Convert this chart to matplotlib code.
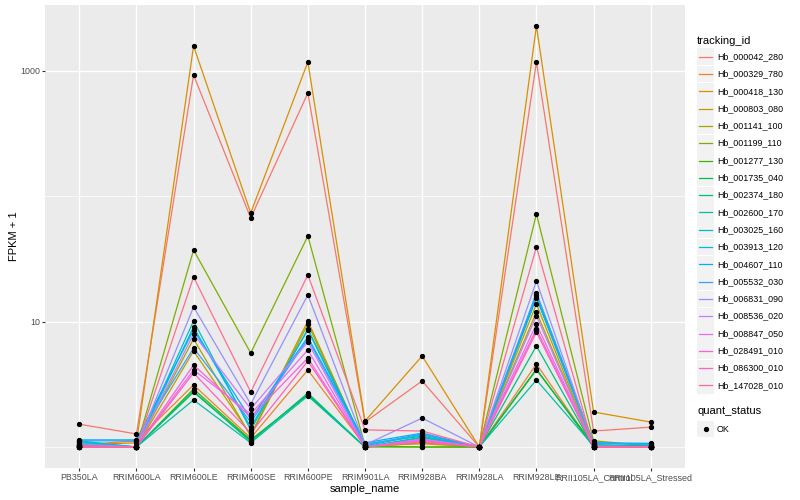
import matplotlib
matplotlib.use("Agg")
import matplotlib.pyplot as plt
from matplotlib.patches import Rectangle
from matplotlib.lines import Line2D
from matplotlib.ticker import FixedLocator, NullFormatter

plt.rcParams['font.family'] = ['Liberation Sans', 'DejaVu Sans']

# eixos / categorias
samples = ['PB350LA', 'RRIM600LA', 'RRIM600LE', 'RRIM600SE', 'RRIM600PE', 'RRIM901LA',
           'RRIM928BA', 'RRIM928LA', 'RRIM928LE', 'RRII105LA_Control', 'RRII105LA_Stressed']

tracking_ids = ['Hb_000042_280', 'Hb_000329_780', 'Hb_000418_130', 'Hb_000803_080',
                'Hb_001141_100', 'Hb_001199_110', 'Hb_001277_130', 'Hb_001735_040',
                'Hb_002374_180', 'Hb_002600_170', 'Hb_003025_160', 'Hb_003913_120',
                'Hb_004607_110', 'Hb_005532_030', 'Hb_006831_090', 'Hb_008536_020',
                'Hb_008847_050', 'Hb_028491_010', 'Hb_086300_010', 'Hb_147028_010']

# FPKM + 1 por amostra (mesma ordem de samples)
hb_000042_280 = [1.52, 1.27, 921, 66.8, 662, 1.58, 3.36, 1.0, 1169, 1.34, 1.44]
hb_000329_780 = [1.04, 1.12, 3.12, 1.18, 4.11, 1.02, 1.06, 1.0, 4.59, 1.0, 1.0]
hb_000418_130 = [1.04, 1.08, 1567, 73.2, 1169, 1.61, 5.31, 1.0, 2263, 1.90, 1.58]
hb_000803_080 = [1.0, 1.0, 5.82, 1.25, 10.1, 1.0, 1.08, 1.0, 13.8, 1.0, 1.0]
hb_001141_100 = [1.0, 1.0, 7.26, 1.22, 9.55, 1.0, 1.10, 1.0, 11.9, 1.0, 1.0]
hb_001199_110 = [1.02, 1.0, 37.1, 5.61, 48.0, 1.02, 1.0, 1.0, 71.9, 1.12, 1.02]
hb_001277_130 = [1.0, 1.0, 2.90, 1.14, 2.60, 1.0, 1.0, 1.0, 4.11, 1.04, 1.02]
hb_001735_040 = [1.02, 1.0, 2.74, 1.12, 2.64, 1.0, 1.14, 1.0, 4.18, 1.0, 1.0]
hb_002374_180 = [1.04, 1.0, 2.79, 1.10, 2.69, 1.0, 1.18, 1.0, 6.38, 1.0, 1.0]
hb_002600_170 = [1.08, 1.0, 2.37, 1.08, 2.55, 1.0, 1.20, 1.0, 3.42, 1.02, 1.02]
hb_003025_160 = [1.12, 1.0, 10.1, 1.37, 8.71, 1.06, 1.22, 1.0, 15.4, 1.06, 1.06]
hb_003913_120 = [1.10, 1.0, 9.04, 1.44, 8.56, 1.02, 1.25, 1.0, 15.7, 1.04, 1.0]
hb_004607_110 = [1.14, 1.14, 8.56, 1.67, 7.52, 1.08, 1.29, 1.0, 16.3, 1.08, 1.07]
hb_005532_030 = [1.12, 1.12, 6.15, 1.58, 7.26, 1.04, 1.27, 1.0, 16.9, 1.08, 1.04]
hb_006831_090 = [1.06, 1.0, 13.05, 2.20, 16.3, 1.04, 1.70, 1.0, 21.0, 1.02, 1.0]
hb_008536_020 = [1.0, 1.0, 7.95, 2.01, 6.86, 1.0, 1.16, 1.0, 11.1, 1.0, 1.0]
hb_008847_050 = [1.0, 1.0, 4.11, 1.83, 5.93, 1.0, 1.14, 1.0, 9.55, 1.0, 1.0]
hb_028491_010 = [1.02, 1.0, 4.50, 1.73, 5.12, 1.0, 1.12, 1.0, 8.71, 1.0, 1.0]
hb_086300_010 = [1.0, 1.0, 3.89, 1.29, 4.84, 1.0, 1.10, 1.0, 8.25, 1.0, 1.0]
hb_147028_010 = [1.02, 1.0, 22.6, 2.74, 23.5, 1.37, 1.34, 1.0, 39.2, 1.0, 1.0]

series = [hb_000042_280, hb_000329_780, hb_000418_130, hb_000803_080, hb_001141_100,
          hb_001199_110, hb_001277_130, hb_001735_040, hb_002374_180, hb_002600_170,
          hb_003025_160, hb_003913_120, hb_004607_110, hb_005532_030, hb_006831_090,
          hb_008536_020, hb_008847_050, hb_028491_010, hb_086300_010, hb_147028_010]

# paleta hue do ggplot (20 cores)
cores = ['#F8766D', '#EA8331', '#D89000', '#C09B00', '#A3A500', '#7CAE00', '#39B600',
         '#00BB4E', '#00BF7D', '#00C1A3', '#00BFC4', '#00BAE0', '#00B0F6', '#35A2FF',
         '#9590FF', '#C77CFF', '#E76BF3', '#FA62DB', '#FF62BC', '#FF6C91']

W, H = 800, 500
fig = plt.figure(figsize=(8, 5), dpi=100)
ax = fig.add_axes([45 / W, 32 / H, 640 / W, 463 / H])
ax.set_facecolor('#EBEBEB')

x = list(range(len(samples)))
for vals, cor in zip(series, cores):
    ax.plot(x, vals, color=cor, lw=0.9, zorder=3)
for vals in series:
    ax.plot(x, vals, ls='none', marker='o', ms=2.8, color='black', zorder=4)

ax.set_yscale('log')
ax.set_ylim(10 ** (-21 / 125.5), 10 ** (442 / 125.5))
ax.set_xlim(-0.6, 10.6)
ax.set_yticks([10, 1000])
ax.set_yticklabels(['10', '1000'])
ax.yaxis.set_minor_locator(FixedLocator([1, 100]))
ax.yaxis.set_minor_formatter(NullFormatter())
ax.set_xticks(x)
ax.set_xticklabels(samples)

ax.grid(which='major', color='white', lw=1.0)
ax.grid(which='minor', axis='y', color='white', lw=0.5)
ax.set_axisbelow(True)
for s in ax.spines.values():
    s.set_visible(False)
ax.tick_params(which='major', length=2.2, width=0.8, color='#333333',
               labelsize=6.4, labelcolor='#4D4D4D', pad=1.5)
ax.tick_params(which='minor', length=0)

ax.set_xlabel('sample_name', fontsize=8, labelpad=1.5)
ax.set_ylabel('FPKM + 1', fontsize=8, labelpad=0.8)


def fx(px):
    return px / W


def fy(py):
    return 1 - py / H


# legenda tracking_id
fig.text(fx(697), fy(40.7), 'tracking_id', fontsize=8, va='center', ha='left')
for i, (tid, cor) in enumerate(zip(tracking_ids, cores)):
    yc = 56.7 + 17.3 * i
    fig.patches.append(Rectangle((fx(697), fy(yc + 8.4)), 17 / W, 16.8 / H,
                                 transform=fig.transFigure, fc='#F2F2F2', ec='none'))
    fig.lines.append(Line2D([fx(699), fx(712)], [fy(yc), fy(yc)],
                            transform=fig.transFigure, color=cor, lw=0.9))
    fig.text(fx(717), fy(yc), tid, fontsize=6.4, va='center', ha='left')

# legenda quant_status
fig.text(fx(697), fy(411), 'quant_status', fontsize=8, va='center', ha='left')
fig.patches.append(Rectangle((fx(697), fy(429 + 8.4)), 17 / W, 16.8 / H,
                             transform=fig.transFigure, fc='#F2F2F2', ec='none'))
fig.lines.append(Line2D([fx(705.5)], [fy(429)], transform=fig.transFigure,
                        ls='none', marker='o', ms=2.8, color='black'))
fig.text(fx(717), fy(429), 'OK', fontsize=6.4, va='center', ha='left')

fig.savefig('out.png', dpi=100)
